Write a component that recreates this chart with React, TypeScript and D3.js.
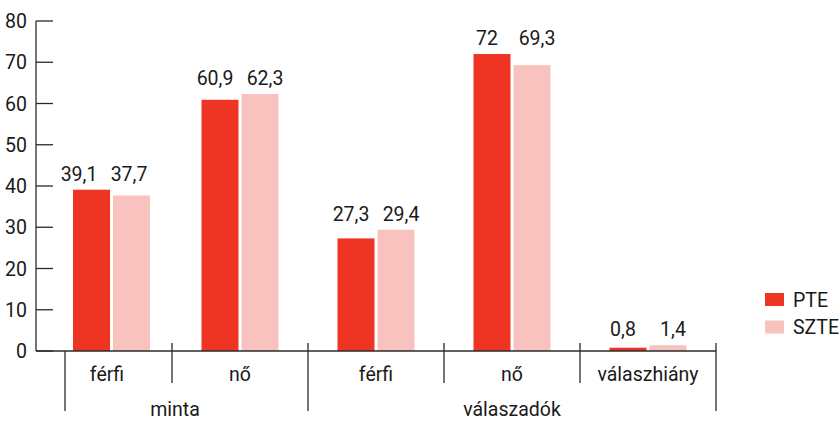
import React from "react";
import * as d3 from "d3";

const categories = ["férfi", "nő", "férfi", "nő", "válaszhiány"];
const groups = [
  { name: "minta", from: 0, to: 1 },
  { name: "válaszadók", from: 2, to: 4 },
];
const pteValues = [39.1, 60.9, 27.3, 72, 0.8];
const szteValues = [37.7, 62.3, 29.4, 69.3, 1.4];
const pteLabels = ["39,1", "60,9", "27,3", "72", "0,8"];
const szteLabels = ["37,7", "62,3", "29,4", "69,3", "1,4"];
const yTicks = [0, 10, 20, 30, 40, 50, 60, 70, 80];
const seriesNames = ["PTE", "SZTE"];

const COLORS = ["#EE3524", "#F8C3BE"];
const AXIS = "#2b2b2b";
const FONT = "Roboto, 'Liberation Sans', sans-serif";

export default function App() {
  const W = 840, H = 422;
  const left = 36, right = 716, top = 21, base = 351;
  const idx = categories.map((_, i) => String(i));
  const x = d3.scaleBand<string>().domain(idx).range([left, right]).padding(0);
  const y = d3.scaleLinear().domain([0, 80]).range([base, top]);
  const bw = 37, gap = 3, labelOff = 25;
  const shift = (i: number) => (i === 0 ? 7.5 : 0);
  const center = (i: number) => (x(String(i)) as number) + x.bandwidth() / 2;

  const separators = [
    { x: 65, y1: base, y2: 411 },
    ...categories.slice(1).map((_, k) => {
      const i = k + 1;
      const isGroupStart = groups.some((g) => g.from === i);
      return { x: x(String(i)) as number, y1: 343, y2: isGroupStart ? 411 : 383 };
    }),
    { x: right, y1: 343, y2: 411 },
  ];

  return (
    <svg width={W} height={H} style={{ position: "absolute", left: 0, top: 0, background: "#fff" }} fontFamily={FONT}>
      {/* y axis */}
      <line x1={left} x2={left} y1={top} y2={base} stroke={AXIS} strokeWidth={1.3} />
      {yTicks.map((t) => (
        <g key={t}>
          <line x1={left} x2={left + 17} y1={y(t)} y2={y(t)} stroke={AXIS} strokeWidth={1.3} />
          <text x={27} y={y(t)} dy="0.36em" textAnchor="end" fontSize={19.5} fill="#1a1a1a">
            {t}
          </text>
        </g>
      ))}
      {/* bars */}
      {categories.map((c, i) => {
        const cx = center(i) + shift(i);
        const ly = y(Math.max(pteValues[i], szteValues[i])) - 9;
        return (
          <g key={i}>
            <rect x={cx - gap / 2 - bw} y={y(pteValues[i])} width={bw} height={base - y(pteValues[i])} fill={COLORS[0]} />
            <rect x={cx + gap / 2} y={y(szteValues[i])} width={bw} height={base - y(szteValues[i])} fill={COLORS[1]} />
            <text x={center(i) - labelOff} y={ly} textAnchor="middle" fontSize={19.5} fill="#1a1a1a">
              {pteLabels[i]}
            </text>
            <text x={center(i) + labelOff} y={ly} textAnchor="middle" fontSize={19.5} fill="#1a1a1a">
              {szteLabels[i]}
            </text>
            <text x={center(i) + (i === 0 ? 3 : 0)} y={381} textAnchor="middle" fontSize={19.5} fill="#1a1a1a">
              {c}
            </text>
          </g>
        );
      })}
      {/* x axis */}
      <line x1={left} x2={right} y1={base} y2={base} stroke={AXIS} strokeWidth={1.3} />
      {separators.map((s, i) => (
        <line key={i} x1={s.x} x2={s.x} y1={s.y1} y2={s.y2} stroke={AXIS} strokeWidth={1.3} />
      ))}
      {groups.map((g) => {
        const gx = g.from === 0
          ? (left + (x(String(g.to)) as number) + x.bandwidth()) / 2 + 3
          : ((x(String(g.from)) as number) + (x(String(g.to)) as number) + x.bandwidth()) / 2;
        return (
          <text key={g.name} x={gx} y={416} textAnchor="middle" fontSize={19.5} fill="#1a1a1a">
            {g.name}
          </text>
        );
      })}
      {/* legend */}
      {seriesNames.map((s, i) => (
        <g key={s} transform={`translate(765, ${293 + i * 27.5})`}>
          <rect x={0} y={0} width={19} height={13} fill={COLORS[i]} />
          <text x={28} y={6.5} dy="0.36em" fontSize={19.5} fill="#1a1a1a">
            {s}
          </text>
        </g>
      ))}
    </svg>
  );
}
